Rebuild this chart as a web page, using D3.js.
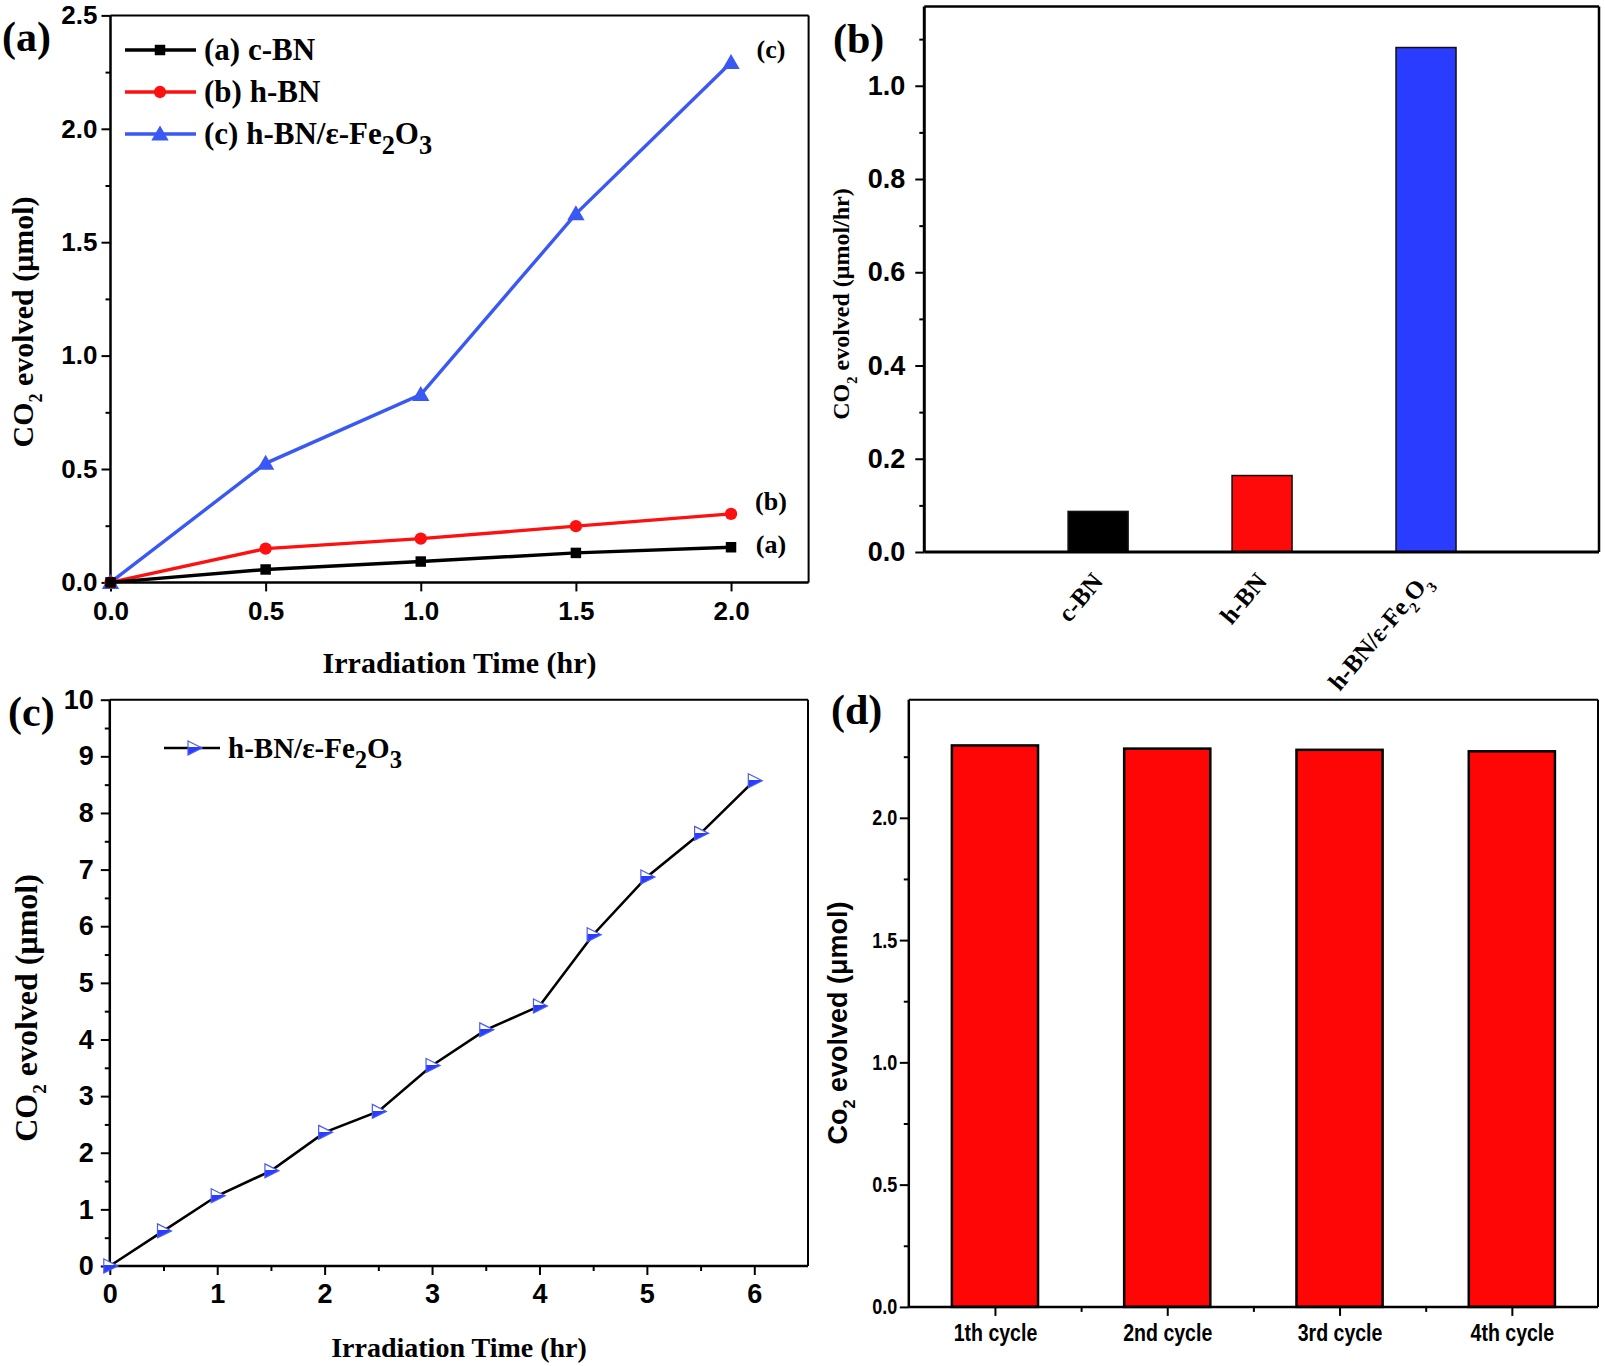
<!DOCTYPE html>
<html><head><meta charset="utf-8">
<script src="https://cdn.jsdelivr.net/npm/d3@7"></script>
<style>body{margin:0;background:#fff;} text{font-weight:bold;}</style>
</head><body>
<script>
// ---------- data ----------
const timeA = [0, 0.5, 1.0, 1.5, 2.0];
const cBN = [0, 0.057, 0.092, 0.130, 0.155];
const hBN = [0, 0.149, 0.193, 0.248, 0.302];
const hBNFe = [0, 0.525, 0.828, 1.625, 2.292];
const seriesNamesA = ["(a) c-BN", "(b) h-BN", "(c) h-BN/ε-Fe2O3"];
const ticksAX = [0, 0.5, 1.0, 1.5, 2.0];
const ticksAY = [0, 0.5, 1.0, 1.5, 2.0, 2.5];

const catsB = ["c-BN", "h-BN", "h-BN/ε-Fe2O3"];
const rateB = [0.087, 0.164, 1.082];
const ticksBY = [0, 0.2, 0.4, 0.6, 0.8, 1.0];

const timeC = [0, 0.5, 1, 1.5, 2, 2.5, 3, 3.5, 4, 4.5, 5, 5.5, 6];
const co2C = [0, 0.62, 1.24, 1.68, 2.36, 2.73, 3.54, 4.17, 4.59, 5.85, 6.87, 7.64, 8.57];
const ticksCX = [0, 1, 2, 3, 4, 5, 6];
const ticksCY = [0, 1, 2, 3, 4, 5, 6, 7, 8, 9, 10];

const cyclesD = ["1th cycle", "2nd cycle", "3rd cycle", "4th cycle"];
const co2D = [2.296, 2.283, 2.278, 2.272];
const ticksDY = [0, 0.5, 1.0, 1.5, 2.0];

// ---------- setup ----------
const SERIF = "'Liberation Serif','Times New Roman',serif";
const SANS = "'Liberation Sans',Arial,sans-serif";
const RED = "#ff1010", BLUE = "#3a58f4", BARBLUE = "#2a3cff";

const svg = d3.select("body").append("svg").attr("width", 1605).attr("height", 1366);
const defs = svg.append("defs");
const grad = defs.append("linearGradient").attr("id", "halfTri").attr("x1", 0).attr("y1", 0).attr("x2", 0).attr("y2", 1);
grad.append("stop").attr("offset", 0).attr("stop-color", "#ffffff");
grad.append("stop").attr("offset", 0.45).attr("stop-color", "#ffffff");
grad.append("stop").attr("offset", 0.45).attr("stop-color", BARBLUE);
grad.append("stop").attr("offset", 1).attr("stop-color", BARBLUE);

// parts: strings, or {sub:"2"}; subscripts lowered, next normal part raised back
function rich(sel, parts, subScale, subDy) {
  let lowered = false;
  parts.forEach(p => {
    if (typeof p === "string") {
      const ts = sel.append("tspan").text(p);
      if (lowered) { ts.attr("dy", -subDy); lowered = false; }
    } else {
      sel.append("tspan").attr("font-size", subScale + "em").attr("dy", lowered ? 0 : subDy).text(p.sub);
      lowered = true;
    }
  });
  return sel;
}
function feParts(prefix) { return [prefix + "h-BN/ε-Fe", {sub: "2"}, "O", {sub: "3"}]; }

function frame(g, P, wl, wo) {
  g.append("line").attr("x1", P.l).attr("x2", P.l).attr("y1", P.t).attr("y2", P.b).attr("stroke", "#000").attr("stroke-width", wl);
  g.append("line").attr("x1", P.l).attr("x2", P.r).attr("y1", P.b).attr("y2", P.b).attr("stroke", "#000").attr("stroke-width", wl);
  g.append("line").attr("x1", P.l).attr("x2", P.r).attr("y1", P.t).attr("y2", P.t).attr("stroke", "#000").attr("stroke-width", wo);
  g.append("line").attr("x1", P.r).attr("x2", P.r).attr("y1", P.t).attr("y2", P.b).attr("stroke", "#000").attr("stroke-width", wo);
}
function styleAxis(a, font, size) {
  a.select(".domain").remove();
  a.selectAll("line").attr("stroke", "#000").attr("stroke-width", 2);
  a.selectAll("text").attr("font-family", font).attr("font-size", size).attr("font-weight", "bold").attr("fill", "#000");
}
function minorAxis(g, axisFn, scale, vals, size, tx, ty) {
  const a = g.append("g").attr("transform", `translate(${tx},${ty})`).call(axisFn(scale).tickValues(vals).tickFormat("").tickSize(size));
  a.select(".domain").remove();
  a.selectAll("line").attr("stroke", "#000").attr("stroke-width", 2);
  a.selectAll("text").remove();
}

// ================= Panel (a) =================
{
  const P = {l: 110.5, r: 808.6, t: 15.4, b: 582.4};
  const g = svg.append("g");
  const x = d3.scaleLinear([0, 2.25], [P.l, P.r]);
  const y = d3.scaleLinear([0, 2.5], [P.b, P.t]);
  const ay = g.append("g").attr("transform", `translate(${P.l},0)`)
    .call(d3.axisLeft(y).tickValues(ticksAY).tickFormat(d3.format(".1f")).tickSize(9).tickPadding(4));
  styleAxis(ay, SANS, 26);
  minorAxis(g, d3.axisLeft, y, [0.25, 0.75, 1.25, 1.75, 2.25], 5, P.l, 0);
  const ax = g.append("g").attr("transform", `translate(0,${P.b})`)
    .call(d3.axisBottom(x).tickValues(ticksAX).tickFormat(d3.format(".1f")).tickSize(9).tickPadding(10));
  styleAxis(ax, SANS, 26);
  frame(g, P, 2.5, 2);

  const line = d3.line().x((d, i) => x(timeA[i])).y(d => y(d));
  const series = [
    {v: cBN, c: "#000", m: "square"},
    {v: hBN, c: RED, m: "circle"},
    {v: hBNFe, c: BLUE, m: "triangle"}
  ];
  const sym = {square: d3.symbolSquare, circle: d3.symbolCircle, triangle: d3.symbolTriangle};
  const sz = {square: 110, circle: 120, triangle: 130};
  series.slice().reverse().forEach(s => {
    g.append("path").attr("d", line(s.v)).attr("fill", "none").attr("stroke", s.c).attr("stroke-width", 3.4);
    g.selectAll(null).data(s.v).enter().append("path")
      .attr("transform", (d, i) => `translate(${x(timeA[i])},${y(d) + (s.m === "triangle" ? 1.5 : 0)})`)
      .attr("d", d3.symbol(sym[s.m], sz[s.m])).attr("fill", s.c);
  });
  // legend
  const legY = [50, 92, 134];
  series.forEach((s, i) => {
    g.append("line").attr("x1", 125).attr("x2", 196).attr("y1", legY[i]).attr("y2", legY[i]).attr("stroke", s.c).attr("stroke-width", 3.4);
    g.append("path").attr("transform", `translate(160,${legY[i] + (s.m === "triangle" ? 1.5 : 0)})`).attr("d", d3.symbol(sym[s.m], sz[s.m])).attr("fill", s.c);
    const t = g.append("text").attr("x", 204).attr("y", legY[i] + 10).attr("font-family", SERIF).attr("font-size", 31);
    if (i < 2) t.text(seriesNamesA[i]); else rich(t, feParts("(c) "), 0.85, 10);
  });
  // end labels (placed at value positions)
  [["(c)", 2.35], ["(b)", 0.361], ["(a)", 0.171]].forEach(([lab, v]) => {
    g.append("text").attr("x", 771).attr("y", y(v) + 9).attr("text-anchor", "middle")
      .attr("font-family", SERIF).attr("font-size", 26).text(lab);
  });
  g.append("text").attr("x", 2).attr("y", 51).attr("font-family", SERIF).attr("font-size", 42).text("(a)");
  g.append("text").attr("x", (P.l + P.r) / 2).attr("y", 673).attr("text-anchor", "middle")
    .attr("font-family", SERIF).attr("font-size", 30).text("Irradiation Time (hr)");
  const yl = g.append("text").attr("transform", `translate(33,${322}) rotate(-90)`).attr("text-anchor", "middle")
    .attr("font-family", SERIF).attr("font-size", 30);
  rich(yl, ["CO", {sub: "2"}, " evolved (μmol)"], 0.6, 9);
}

// ================= Panel (b) =================
{
  const P = {l: 924.3, r: 1599, t: 6.5, b: 552};
  const g = svg.append("g");
  const x = d3.scaleLinear([-0.06, 4.055], [P.l, P.r]);
  const y = d3.scaleLinear([0, 1.17], [P.b, P.t]);
  const ay = g.append("g").attr("transform", `translate(${P.l},0)`)
    .call(d3.axisLeft(y).tickValues(ticksBY).tickFormat(d3.format(".1f")).tickSize(9).tickPadding(10));
  styleAxis(ay, SANS, 27);
  minorAxis(g, d3.axisLeft, y, [0.1, 0.3, 0.5, 0.7, 0.9, 1.1], 5, P.l, 0);
  const colors = ["#000000", "#ff0a0a", BARBLUE];
  const bw = x(0.366) - x(0);
  g.selectAll(null).data(rateB).enter().append("rect")
    .attr("x", (d, i) => x(i + 1) - bw / 2).attr("width", bw)
    .attr("y", d => y(d)).attr("height", d => y(0) - y(d))
    .attr("fill", (d, i) => colors[i]).attr("stroke", "#111").attr("stroke-width", 1.5);
  frame(g, P, 3, 2.5);
  catsB.forEach((c, i) => {
    const t = g.append("text").attr("transform", `translate(${x(i + 1) + 6},${P.b + 30}) rotate(-50)`)
      .attr("text-anchor", "end").attr("font-family", SERIF).attr("font-size", 25);
    if (i < 2) t.text(c); else rich(t, feParts(""), 0.6, 8);
  });
  g.append("text").attr("x", 833).attr("y", 53).attr("font-family", SERIF).attr("font-size", 42).text("(b)");
  const yl = g.append("text").attr("transform", `translate(849,${304}) rotate(-90)`).attr("text-anchor", "middle")
    .attr("font-family", SERIF).attr("font-size", 24);
  rich(yl, ["CO", {sub: "2"}, " evolved (μmol/hr)"], 0.6, 8);
}

// ================= Panel (c) =================
{
  const P = {l: 109.8, r: 808, t: 699.7, b: 1266};
  const g = svg.append("g");
  const x = d3.scaleLinear([0, 6.5], [P.l, P.r]);
  const y = d3.scaleLinear([0, 10], [P.b, P.t]);
  const ay = g.append("g").attr("transform", `translate(${P.l},0)`)
    .call(d3.axisLeft(y).tickValues(ticksCY).tickFormat(d3.format("d")).tickSize(9).tickPadding(7));
  styleAxis(ay, SANS, 27);
  minorAxis(g, d3.axisLeft, y, d3.range(0.5, 10, 1), 5, P.l, 0);
  const ax = g.append("g").attr("transform", `translate(0,${P.b})`)
    .call(d3.axisBottom(x).tickValues(ticksCX).tickFormat(d3.format("d")).tickSize(9).tickPadding(9));
  styleAxis(ax, SANS, 27);
  minorAxis(g, d3.axisBottom, x, d3.range(0.5, 6.5, 1), 5, 0, P.b);
  frame(g, P, 2.5, 2);
  const line = d3.line().x((d, i) => x(timeC[i])).y(d => y(d));
  g.append("path").attr("d", line(co2C)).attr("fill", "none").attr("stroke", "#000").attr("stroke-width", 2.6);
  const tri = "M-6,-7 L8,0 L-6,7 Z";
  g.selectAll(null).data(co2C).enter().append("path")
    .attr("transform", (d, i) => `translate(${x(timeC[i])},${y(d)})`)
    .attr("d", tri).attr("fill", "url(#halfTri)").attr("stroke", "#4a5cf0").attr("stroke-width", 1.2);
  g.append("line").attr("x1", 164).attr("x2", 220).attr("y1", 748).attr("y2", 748).attr("stroke", "#000").attr("stroke-width", 2.6);
  g.append("path").attr("transform", "translate(194,748)").attr("d", tri).attr("fill", "url(#halfTri)").attr("stroke", "#4a5cf0").attr("stroke-width", 1.2);
  rich(g.append("text").attr("x", 228).attr("y", 758).attr("font-family", SERIF).attr("font-size", 29), feParts(""), 0.85, 10);
  g.append("text").attr("x", 8).attr("y", 726).attr("font-family", SERIF).attr("font-size", 42).text("(c)");
  g.append("text").attr("x", 459).attr("y", 1357).attr("text-anchor", "middle")
    .attr("font-family", SERIF).attr("font-size", 28).text("Irradiation Time (hr)");
  const yl = g.append("text").attr("transform", `translate(37,${1008}) rotate(-90)`).attr("text-anchor", "middle")
    .attr("font-family", SERIF).attr("font-size", 32);
  rich(yl, ["CO", {sub: "2"}, " evolved (μmol)"], 0.6, 9);
}

// ================= Panel (d) =================
{
  const P = {l: 908.8, r: 1598, t: 699.7, b: 1306.9};
  const g = svg.append("g");
  const x = d3.scaleLinear([0.5, 4.5], [P.l, P.r]);
  const y = d3.scaleLinear([0, 2.483], [P.b, P.t]);
  const ay = g.append("g").attr("transform", `translate(${P.l},0)`)
    .call(d3.axisLeft(y).tickValues(ticksDY).tickFormat(d3.format(".1f")).tickSize(9).tickPadding(5));
  styleAxis(ay, SANS, 22);
  ay.selectAll("text").attr("transform", "scale(0.82,1)");
  minorAxis(g, d3.axisLeft, y, [0.25, 0.75, 1.25, 1.75, 2.25], 5, P.l, 0);
  const ax = g.append("g").attr("transform", `translate(0,${P.b})`)
    .call(d3.axisBottom(x).tickValues([1, 2, 3, 4]).tickFormat((d, i) => cyclesD[i]).tickSize(9).tickPadding(9));
  styleAxis(ax, SANS, 23);
  ax.selectAll("text").attr("transform", "scale(0.85,1)");
  minorAxis(g, d3.axisBottom, x, [1.5, 2.5, 3.5], 5, 0, P.b);
  const bw = x(1.5) - x(1);
  g.selectAll(null).data(co2D).enter().append("rect")
    .attr("x", (d, i) => x(i + 1) - bw / 2).attr("width", bw)
    .attr("y", d => y(d)).attr("height", d => y(0) - y(d))
    .attr("fill", "#ff0606").attr("stroke", "#000").attr("stroke-width", 2.5);
  frame(g, P, 2.5, 2);
  g.append("text").attr("x", 831).attr("y", 724).attr("font-family", SERIF).attr("font-size", 42).text("(d)");
  const yl = g.append("text").attr("transform", `translate(847,${1023}) rotate(-90)`).attr("text-anchor", "middle")
    .attr("font-family", SANS).attr("font-size", 27);
  rich(yl, ["Co", {sub: "2"}, " evolved (μmol)"], 0.6, 8);
}
</script>
</body></html>
